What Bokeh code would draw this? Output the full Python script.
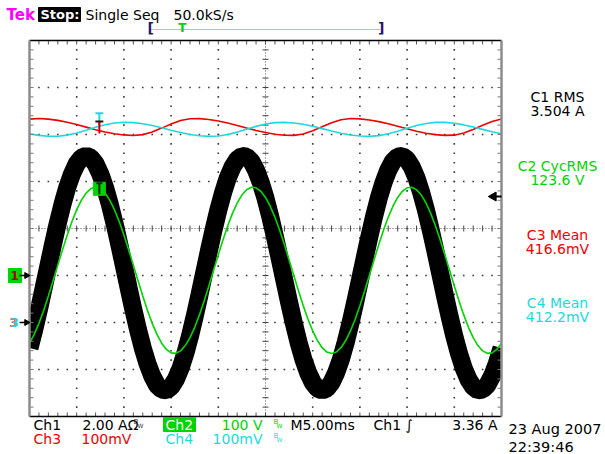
import numpy as np
from bokeh.plotting import figure
from bokeh.models import Range1d
from bokeh.embed import file_html
from bokeh.resources import INLINE
from bokeh.core.properties import value

# ---------------- scope settings ----------------
time_per_div_ms = 5.0
ch1_A_per_div = 2.0
ch2_V_per_div = 100.0
ch3_mV_per_div = 100.0
ch4_mV_per_div = 100.0
ch1_pos_div = -1.0
ch2_pos_div = -1.0
ch3_pos_div = -2.0
ch4_pos_div = -2.0
trigger_level_A = 3.36
trigger_time_ms = 7.4

# ---------------- waveforms ----------------
t_ms = [0.0, 0.5, 1.0, 1.5, 2.0, 2.5, 3.0, 3.5, 4.0, 4.5,
        5.0, 5.5, 6.0, 6.5, 7.0, 7.5, 8.0, 8.5, 9.0, 9.5,
        10.0, 10.5, 11.0, 11.5, 12.0, 12.5, 13.0, 13.5, 14.0, 14.5,
        15.0, 15.5, 16.0, 16.5, 17.0, 17.5, 18.0, 18.5, 19.0, 19.5,
        20.0, 20.5, 21.0, 21.5, 22.0, 22.5, 23.0, 23.5, 24.0, 24.5,
        25.0, 25.5, 26.0, 26.5, 27.0, 27.5, 28.0, 28.5, 29.0, 29.5,
        30.0, 30.5, 31.0, 31.5, 32.0, 32.5, 33.0, 33.5, 34.0, 34.5,
        35.0, 35.5, 36.0, 36.5, 37.0, 37.5, 38.0, 38.5, 39.0, 39.5,
        40.0, 40.5, 41.0, 41.5, 42.0, 42.5, 43.0, 43.5, 44.0, 44.5,
        45.0, 45.5, 46.0, 46.5, 47.0, 47.5, 48.0, 48.5, 49.0, 49.5,
        50.0]

ch1_A = [-3.09, -2.31, -1.45, -0.53, 0.41, 1.34, 2.23, 3.04, 3.75, 4.32,
         4.75, 5.01, 5.10, 5.01, 4.75, 4.32, 3.75, 3.04, 2.23, 1.34,
         0.41, -0.53, -1.45, -2.31, -3.09, -3.75, -4.28, -4.66, -4.86, -4.89,
         -4.74, -4.42, -3.95, -3.32, -2.58, -1.74, -0.84, 0.10, 1.04, 1.94,
         2.78, 3.52, 4.15, 4.62, 4.94, 5.09, 5.06, 4.86, 4.48, 3.95,
         3.29, 2.51, 1.65, 0.73, -0.21, -1.14, -2.03, -2.84, -3.55, -4.12,
         -4.55, -4.81, -4.90, -4.81, -4.55, -4.12, -3.55, -2.84, -2.03, -1.14,
         -0.21, 0.73, 1.65, 2.51, 3.29, 3.95, 4.48, 4.86, 5.06, 5.09,
         4.94, 4.62, 4.15, 3.52, 2.78, 1.94, 1.04, 0.10, -0.84, -1.74,
         -2.58, -3.32, -3.95, -4.42, -4.74, -4.89, -4.86, -4.66, -4.28, -3.75,
         -3.09]

ch2_V = [-144.1, -125.4, -101.8, -74.3, -43.7, -11.2, 22.1, 55.0, 86.4, 115.0,
         140.0, 160.4, 175.6, 184.9, 188.0, 184.9, 175.6, 160.4, 140.0, 115.0,
         86.4, 55.0, 22.1, -11.2, -43.7, -74.3, -101.8, -125.4, -144.1, -157.3,
         -164.6, -165.6, -160.4, -149.1, -132.2, -110.2, -83.8, -54.2, -22.2, 11.0,
         44.2, 76.2, 105.8, 132.2, 154.2, 171.1, 182.4, 187.6, 186.6, 179.3,
         166.1, 147.4, 123.8, 96.3, 65.7, 33.2, -0.1, -33.0, -64.4, -93.0,
         -118.0, -138.4, -153.6, -162.9, -166.0, -162.9, -153.6, -138.4, -118.0, -93.0,
         -64.4, -33.0, -0.1, 33.2, 65.7, 96.3, 123.8, 147.4, 166.1, 179.3,
         186.6, 187.6, 182.4, 171.1, 154.2, 132.2, 105.8, 76.2, 44.2, 11.0,
         -22.2, -54.2, -83.8, -110.2, -132.2, -149.1, -160.4, -165.6, -164.6, -157.3,
         -144.1]

t2_ms = [0, 1, 2, 3, 4, 5, 6, 7, 8, 9,
         10, 11, 12, 13, 14, 15, 16, 17, 18, 19,
         20, 21, 22, 23, 24, 25, 26, 27, 28, 29,
         30, 31, 32, 33, 34, 35, 36, 37, 38, 39,
         40, 41, 42, 43, 44, 45, 46, 47, 48, 49,
         50]

ch3_mV = [432.8, 433.9, 432.7, 430.0, 426.0, 421.1, 415.7, 410.3, 405.5, 401.6,
          399.1, 398.0, 399.7, 405.3, 413.6, 422.4, 429.7, 433.6, 433.7, 431.9,
          428.8, 424.4, 419.3, 413.9, 408.7, 404.1, 400.6, 398.5, 398.1, 401.1,
          407.8, 416.5, 425.1, 431.5, 434.0, 433.3, 431.0, 427.4, 422.8, 417.5,
          412.1, 407.0, 402.8, 399.7, 398.2, 398.6, 403.0, 410.6, 419.5, 427.6,
          432.8]

ch4_mV = [401.4, 398.1, 396.3, 396.3, 398.7, 403.2, 409.1, 415.3, 420.8, 424.5,
          426.0, 425.2, 422.8, 419.0, 414.2, 409.1, 404.2, 400.1, 397.3, 396.0,
          396.8, 400.0, 405.1, 411.2, 417.3, 422.3, 425.3, 425.9, 424.6, 421.7,
          417.5, 412.5, 407.4, 402.7, 399.0, 396.7, 396.0, 397.6, 401.5, 407.1,
          413.3, 419.1, 423.5, 425.8, 425.7, 423.8, 420.4, 415.9, 410.9, 405.8,
          401.4]

meas_names = ["C1 RMS", "C2 CycRMS", "C3 Mean", "C4 Mean"]
meas_values = ["3.504 A", "123.6 V", "416.6mV", "412.2mV"]

# ---------------- layout (pixels of the 605x454 screen) ----------------
W, H = 605, 454
GX0, GY0 = 29.0, 40.0          # graticule top-left corner
DIVX, DIVY = 47.2, 47.0        # pixels per division
CY = GY0 + 4 * DIVY            # vertical centre line


def XM(px):  # screen px -> ms
    return (px - GX0) / DIVX * time_per_div_ms


def Y(py):   # screen px -> divisions
    return (CY - py) / DIVY


GREEN = "#00d400"
RED = "#ee0000"
CYAN = "#1ed8e0"
MAG = "#ff00ff"
FONT = value("DejaVu Sans")

p = figure(width=W, height=H, x_range=Range1d(XM(0), XM(W)), y_range=Range1d(Y(H), Y(0)),
           output_backend="svg", toolbar_location=None, x_axis_type=None, y_axis_type=None,
           min_border=0, outline_line_color=None,
           background_fill_color="white", border_fill_color="white")


def chan_range(scale, pos):
    return Range1d((Y(H) - pos) * scale, (Y(0) - pos) * scale)


p.extra_y_ranges = {
    "ch1": chan_range(ch1_A_per_div, ch1_pos_div),
    "ch2": chan_range(ch2_V_per_div, ch2_pos_div),
    "ch3": chan_range(ch3_mV_per_div, ch3_pos_div),
    "ch4": chan_range(ch4_mV_per_div, ch4_pos_div),
}

# ---------------- graticule ----------------
T_END = 10 * time_per_div_ms
minor_t = [k * time_per_div_ms / 5 for k in range(1, 50)]
minor_y = [-4 + 0.2 * k for k in range(1, 40)]
dx_px = time_per_div_ms / DIVX   # 1 px in ms
dy_px = 1.0 / DIVY               # 1 px in div

gx, gy = [], []
for d in range(1, 10):
    if d == 5:
        continue
    for yv in minor_y:
        gx.append(d * time_per_div_ms)
        gy.append(yv)
for d in range(-3, 4):
    if d == 0:
        continue
    for tv in minor_t:
        gx.append(tv)
        gy.append(d)
p.scatter(gx, gy, marker="square", size=1.6, fill_color="#3a3a3a", line_color=None)

# centre cross
p.segment(x0=[0], y0=[0], x1=[T_END], y1=[0], line_color="#555555", line_width=1, line_dash="1 2")
p.segment(x0=[T_END / 2], y0=[-4], x1=[T_END / 2], y1=[4], line_color="#555555", line_width=1,
          line_dash="1 2")
p.segment(x0=minor_t, y0=[-3 * dy_px] * len(minor_t), x1=minor_t, y1=[3 * dy_px] * len(minor_t),
          line_color="#444444", line_width=1)
p.segment(x0=[T_END / 2 - 3 * dx_px] * len(minor_y), y0=minor_y,
          x1=[T_END / 2 + 3 * dx_px] * len(minor_y), y1=minor_y, line_color="#444444", line_width=1)

# ---------------- traces ----------------
p.line(t_ms, ch1_A, y_range_name="ch1", line_color="black", line_width=18)
p.line(t_ms, ch2_V, y_range_name="ch2", line_color=GREEN, line_width=1.6)
p.line(t2_ms, ch3_mV, y_range_name="ch3", line_color=RED, line_width=1.6)
p.line(t2_ms, ch4_mV, y_range_name="ch4", line_color=CYAN, line_width=1.6)

# mask trace overhang outside the graticule
p.quad(left=[XM(0)], right=[0], bottom=[-4.6], top=[4.6], fill_color="white", line_color=None)
p.quad(left=[T_END], right=[XM(510)], bottom=[-4.6], top=[4.6], fill_color="white",
       line_color=None)

# edge ticks
n_t, n_y = len(minor_t), len(minor_y)
p.segment(x0=minor_t, y0=[4] * n_t, x1=minor_t, y1=[4 - 4 * dy_px] * n_t, line_color="#555555")
p.segment(x0=minor_t, y0=[-4] * n_t, x1=minor_t, y1=[-4 + 4 * dy_px] * n_t, line_color="#555555")
p.segment(x0=[0] * n_y, y0=minor_y, x1=[4 * dx_px] * n_y, y1=minor_y, line_color="#777777")
p.segment(x0=[T_END] * n_y, y0=minor_y, x1=[T_END - 4 * dx_px] * n_y, y1=minor_y,
          line_color="#777777")

# frame
p.segment(x0=[0, 0], y0=[4, -4], x1=[T_END, T_END], y1=[4, -4], line_color="black", line_width=1.3)
p.segment(x0=[0, T_END], y0=[-4, -4], x1=[0, T_END], y1=[4, 4], line_color="#8c8c8c",
          line_width=2.5)

# trigger markers on the traces
v3 = float(np.interp(trigger_time_ms, t2_ms, ch3_mV))
v4 = float(np.interp(trigger_time_ms, t2_ms, ch4_mV))
v2 = float(np.interp(trigger_time_ms, t_ms, ch2_V))
mv_px = ch3_mV_per_div / DIVY
tt = trigger_time_ms
p.segment(x0=[tt], y0=[v4 + 1 * mv_px], x1=[tt], y1=[v4 + 13 * mv_px], y_range_name="ch4",
          line_color=CYAN, line_width=2)
p.segment(x0=[tt - 4 * dx_px], y0=[v4 + 13 * mv_px], x1=[tt + 4 * dx_px], y1=[v4 + 13 * mv_px],
          y_range_name="ch4", line_color=CYAN, line_width=2)
p.segment(x0=[tt], y0=[v3 - 3 * mv_px], x1=[tt], y1=[v3 + 9 * mv_px], y_range_name="ch3",
          line_color="#c00000", line_width=2)
p.segment(x0=[tt - 4 * dx_px], y0=[v3 + 9 * mv_px], x1=[tt + 4 * dx_px], y1=[v3 + 9 * mv_px],
          y_range_name="ch3", line_color="#400000", line_width=2)
v_px = ch2_V_per_div / DIVY
p.quad(left=[tt - 6 * dx_px], right=[tt + 6 * dx_px], bottom=[v2 - 7 * v_px], top=[v2 + 6 * v_px],
       y_range_name="ch2", fill_color=GREEN, line_color=GREEN)
p.segment(x0=[tt], y0=[v2 - 6 * v_px], x1=[tt], y1=[v2 + 5 * v_px], y_range_name="ch2",
          line_color="#202020", line_width=2)
p.segment(x0=[tt - 3 * dx_px], y0=[v2 + 5 * v_px], x1=[tt + 3 * dx_px], y1=[v2 + 5 * v_px],
          y_range_name="ch2", line_color="#202020", line_width=2)

# trigger level arrow on the right edge
p.scatter(x=[XM(493)], y=[trigger_level_A], y_range_name="ch1", marker="triangle", angle=np.pi / 2,
          size=9, fill_color="black", line_color="black")
p.segment(x0=[XM(494)], y0=[trigger_level_A], x1=[XM(501)], y1=[trigger_level_A],
          y_range_name="ch1", line_color="black", line_width=2)

# ground markers on the left edge
p.quad(left=[XM(8)], right=[XM(21)], bottom=[ch1_pos_div - 7 * dy_px],
       top=[ch1_pos_div + 7 * dy_px], fill_color=GREEN, line_color=GREEN)
p.text(x=[XM(10)], y=[ch1_pos_div], text=["1"], text_font=FONT, text_font_size="12px",
       text_font_style="bold", text_color="#b00000", text_baseline="middle")
p.text(x=[XM(9)], y=[ch3_pos_div], text=["3"], text_font=FONT, text_font_size="12px",
       text_font_style="bold", text_color=RED, text_baseline="middle")
p.text(x=[XM(10)], y=[ch3_pos_div], text=["3"], text_font=FONT, text_font_size="12px",
       text_font_style="bold", text_color=CYAN, text_baseline="middle")
for yv in (ch1_pos_div, ch3_pos_div):
    p.segment(x0=[XM(19)], y0=[yv], x1=[XM(26)], y1=[yv], line_color="black", line_width=1.5)
    p.scatter(x=[XM(26)], y=[yv], marker="triangle", angle=-np.pi / 2, size=6,
              fill_color="black", line_color="black")


# ---------------- texts ----------------
def txt(px, py, s, color="black", size="14px", align="left", bold=False):
    p.text(x=[XM(px)], y=[Y(py)], text=[s], text_font=FONT, text_font_size=size,
           text_color=color, text_align=align, text_baseline="middle",
           text_font_style="bold" if bold else "normal")


# header
txt(6, 14, "Tek", MAG, "15px", bold=True)
p.quad(left=[XM(38)], right=[XM(80)], bottom=[Y(21)], top=[Y(7)], fill_color="black",
       line_color="black")
txt(40, 14, "Stop:", "white", "13px", bold=True)
txt(85, 14, "Single Seq", "black", "14px")
txt(173, 14, "50.0kS/s", "black", "14px")

# record bar
rec_l, rec_r = 147, 383
p.segment(x0=[XM(rec_l + 3)], y0=[Y(29)], x1=[XM(rec_r - 3)], y1=[Y(29)], line_color=GREEN,
          line_width=1, line_dash="1 1")
txt(rec_l, 27, "[", "#1a1a66", "14px", bold=True)
txt(rec_r + 1, 27, "]", "#1a1a66", "14px", align="right", bold=True)
txt(rec_l + (rec_r - rec_l) * trigger_time_ms / T_END, 27, "T", GREEN, "12px", align="center",
    bold=True)

# measurements
meas_colors = ["black", GREEN, RED, CYAN]
meas_y = [96, 165, 234, 302]
for name, val, col, yy in zip(meas_names, meas_values, meas_colors, meas_y):
    txt(557, yy, name, col, "14px", align="center")
    txt(557, yy + 14, val, col, "14px", align="center")

# bottom status
r1, r2 = 424, 438
txt(33, r1, "Ch1", "black")
txt(82, r1, "2.00 A\u03a9", "black")
txt(133, r1 - 3, "B", "#333333", "7px")
txt(137, r1 + 1, "W", "#333333", "6px")
p.quad(left=[XM(163)], right=[XM(195)], bottom=[Y(431)], top=[Y(417)], fill_color=GREEN,
       line_color=GREEN)
txt(165, r1, "Ch2", "white")
txt(262, r1, "100 V", GREEN, align="right")
txt(273, r1 - 3, "B", GREEN, "7px")
txt(276, r1 + 1, "W", GREEN, "6px")
txt(290, r1, "M5.00ms", "black")
txt(373, r1, "Ch1 \u222b", "black")
txt(497, r1, "3.36 A", "black", align="right")
txt(508, 428, "23 Aug 2007", "black", "14.5px")
txt(33, r2, "Ch3", RED)
txt(81, r2, "100mV", RED)
txt(165, r2, "Ch4", CYAN)
txt(262, r2, "100mV", CYAN, align="right")
txt(273, r2 - 3, "B", CYAN, "7px")
txt(276, r2 + 1, "W", CYAN, "6px")
txt(508, 446, "22:39:46", "black", "14.5px")

open("out.html", "w").write(file_html(p, INLINE))
